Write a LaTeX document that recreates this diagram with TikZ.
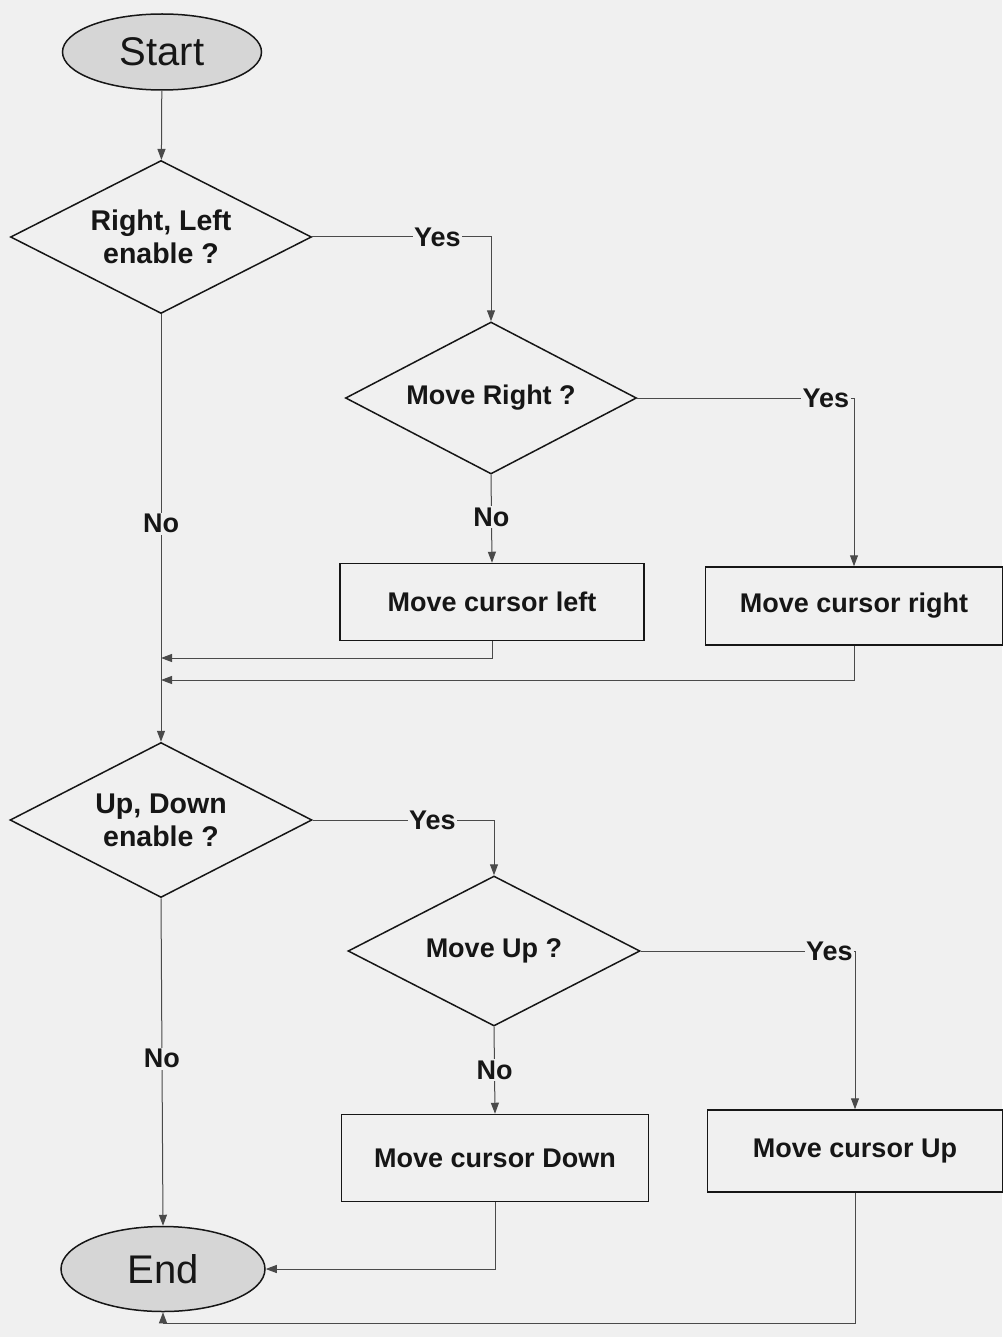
\documentclass[tikz,border=0pt]{standalone}
\usepackage{fontspec}
\setmainfont{Liberation Sans}
\usetikzlibrary{shapes.geometric,arrows.meta}
\definecolor{paper}{HTML}{F0F0F0}
\definecolor{ink}{HTML}{161616}
\definecolor{wire}{HTML}{4A4A4A}
\begin{document}
\begin{tikzpicture}[x=1pt,y=-1pt,
  every node/.style={text=ink},
  terminal/.style={ellipse,draw=ink,line width=1.5pt,fill=black!16,inner sep=0pt,
    font=\fontsize{40}{44}\selectfont},
  decision/.style={diamond,draw=ink,line width=1.5pt,inner sep=0pt,aspect=2,
    align=center,font=\fontsize{28.5}{33}\selectfont\bfseries},
  smalldecision/.style={decision,font=\fontsize{27}{31}\selectfont\bfseries},
  action/.style={rectangle,draw=ink,line width=1.5pt,inner sep=0pt,
    font=\fontsize{27}{31}\selectfont\bfseries},
  wirelabel/.style={fill=paper,inner sep=1.5pt,font=\fontsize{27}{31}\selectfont\bfseries},
  arr/.style={draw=wire,line width=1pt,-{Triangle[width=8pt,length=11pt,fill=wire]}},
  plain/.style={draw=wire,line width=1pt}]

% page
\fill[paper] (0,0) rectangle (1002,1337);
\useasboundingbox (0,0) rectangle (1002,1337);

% nodes
\node[terminal,minimum width=199pt,minimum height=76pt] (start) at (162,52) {Start};
\node[decision,minimum width=301pt,minimum height=153pt] (rl) at (161,237) {Right, Left\\enable ?};
\node[smalldecision,minimum width=291pt,minimum height=152pt] (mr) at (491,398) {Move Right ?};
\node[action,minimum width=304pt,minimum height=77pt] (cl) at (492,602) {Move cursor left};
\node[action,minimum width=297pt,minimum height=78pt] (cr) at (854,606) {Move cursor right};
\node[decision,minimum width=302pt,minimum height=155pt] (ud) at (161,820) {Up, Down\\enable ?};
\node[smalldecision,minimum width=292pt,minimum height=150pt] (mu) at (494,951) {Move Up ?};
\node[action,minimum width=307pt,minimum height=87pt] (cd) at (495,1158) {Move cursor Down};
\node[action,minimum width=295pt,minimum height=82pt] (cu) at (855,1151) {Move cursor Up};
\node[terminal,minimum width=204pt,minimum height=85pt] (end) at (163,1269) {End};

% helper points on the main trunks
\coordinate (join1) at (161,658);
\coordinate (join2) at (161,680);
\coordinate (loop) at (163,1323);

% connectors
\draw[arr] (start) -- (rl);
\draw[arr] (rl.east) -| node[pos=0.35,wirelabel] (y1) {Yes} (mr.north);
\draw[arr] (mr.east) -| node[pos=0.435,wirelabel] (y2) {Yes} (cr.north);
\draw[arr] (mr.south) -- node[pos=0.48,wirelabel] (n2) {No} (cl.north);
\draw[arr] (cl.south) |- (join1);
\draw[arr] (cr.south) |- (join2);
\draw[arr] (rl.south) -- node[pos=0.49,wirelabel] (n1) {No} (ud.north);
\draw[arr] (ud.east) -| node[pos=0.33,wirelabel] (y3) {Yes} (mu.north);
\draw[arr] (mu.east) -| node[pos=0.44,wirelabel] (y4) {Yes} (cu.north);
\draw[arr] (mu.south) -- node[pos=0.5,wirelabel] (n4) {No} (cd.north);
\draw[arr] (ud.south) -- node[pos=0.49,wirelabel] (n3) {No} (end.north);
\draw[arr] (cd.south) |- (end.east);
\draw[plain] (cu.south) |- (loop);
\draw[arr] (loop) -- (end.south);
\end{tikzpicture}
\end{document}
